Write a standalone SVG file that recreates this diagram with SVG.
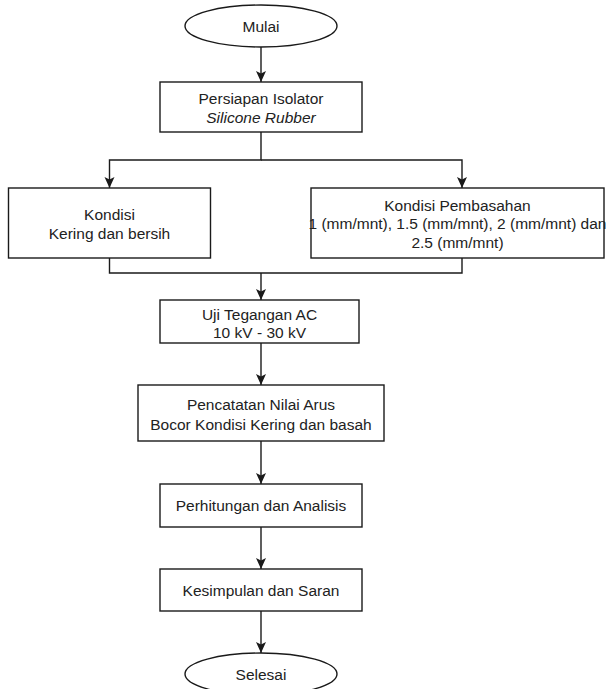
<svg xmlns="http://www.w3.org/2000/svg" width="609" height="689" viewBox="0 0 609 689">
<style>
.shape{fill:#fff;stroke:#1a1a1a;stroke-width:1.4}
.conn{fill:none;stroke:#1a1a1a;stroke-width:1.4}
text{font-family:"Liberation Sans",Arial,sans-serif;font-size:15.5px;fill:#222;text-anchor:middle}
.it{font-style:italic}
</style>
<defs>
<marker id="arr" markerUnits="userSpaceOnUse" markerWidth="12" markerHeight="11" refX="11" refY="5" orient="auto">
<path d="M0,0 L11,5 L0,10 L2.5,5 Z" fill="#1a1a1a"/>
</marker>
</defs>
<rect width="609" height="689" fill="#fff"/>
<g id="connectors">
<path class="conn" d="M261,47 V82" marker-end="url(#arr)"/>
<path class="conn" d="M261,132 V160 H109.5 V188" marker-end="url(#arr)"/>
<path class="conn" d="M261,160 H462 V188" marker-end="url(#arr)"/>
<path class="conn" d="M109.5,258 V273 H462 V258"/>
<path class="conn" d="M261,273 V300" marker-end="url(#arr)"/>
<path class="conn" d="M261,343 V385" marker-end="url(#arr)"/>
<path class="conn" d="M261,441 V484" marker-end="url(#arr)"/>
<path class="conn" d="M261,527 V569" marker-end="url(#arr)"/>
<path class="conn" d="M261,611 V653" marker-end="url(#arr)"/>
</g>
<g id="mulai">
<ellipse class="shape" cx="261" cy="26" rx="76" ry="21"/>
<text x="261" y="32">Mulai</text>
</g>
<g id="persiapan">
<rect class="shape" x="160" y="82" width="202" height="50"/>
<text x="261" y="104">Persiapan Isolator</text>
<text class="it" x="261" y="123">Silicone Rubber</text>
</g>
<g id="kering">
<rect class="shape" x="8.5" y="188" width="202" height="70"/>
<text x="109.5" y="220">Kondisi</text>
<text x="109.5" y="239">Kering dan bersih</text>
</g>
<g id="pembasahan">
<rect class="shape" x="311" y="188" width="293" height="70"/>
<text x="457.5" y="210.5">Kondisi Pembasahan</text>
<text x="457.5" y="229">1 (mm/mnt), 1.5 (mm/mnt), 2 (mm/mnt) dan</text>
<text x="457.5" y="247.5">2.5 (mm/mnt)</text>
</g>
<g id="uji">
<rect class="shape" x="160" y="300" width="199" height="43"/>
<text x="259.5" y="320">Uji Tegangan AC</text>
<text x="259.5" y="338">10 kV - 30 kV</text>
</g>
<g id="pencatatan">
<rect class="shape" x="138" y="385" width="246" height="56"/>
<text x="261" y="410">Pencatatan Nilai Arus</text>
<text x="261" y="429.5">Bocor Kondisi Kering dan basah</text>
</g>
<g id="perhitungan">
<rect class="shape" x="160" y="484" width="202" height="43"/>
<text x="261" y="511">Perhitungan dan Analisis</text>
</g>
<g id="kesimpulan">
<rect class="shape" x="160" y="569" width="202" height="42"/>
<text x="261" y="596">Kesimpulan dan Saran</text>
</g>
<g id="selesai">
<ellipse class="shape" cx="261" cy="674" rx="76" ry="21"/>
<text x="261" y="680">Selesai</text>
</g>
</svg>
